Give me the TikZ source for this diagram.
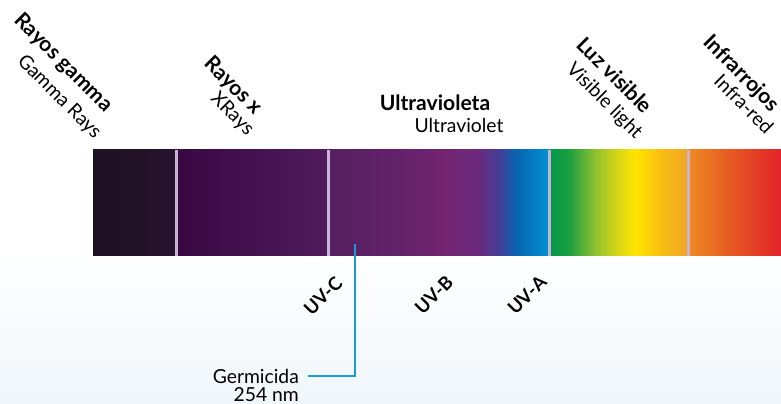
\documentclass[tikz,border=0pt]{standalone}
\usepackage{fontspec}
\setmainfont{Lato}
\definecolor{gamA}{HTML}{1C1222}
\definecolor{gamB}{HTML}{26122E}
\definecolor{xA}{HTML}{380842}
\definecolor{xB}{HTML}{501C5C}
\definecolor{uvA}{HTML}{55205F}
\definecolor{uvB}{HTML}{62226A}
\definecolor{uvC}{HTML}{742470}
\definecolor{uvD}{HTML}{6A2A80}
\definecolor{uvE}{HTML}{40409A}
\definecolor{uvF}{HTML}{0A62B0}
\definecolor{uvG}{HTML}{0094D2}
\definecolor{visA}{HTML}{00964A}
\definecolor{visB}{HTML}{20A040}
\definecolor{visC}{HTML}{90C030}
\definecolor{visD}{HTML}{D0D418}
\definecolor{visE}{HTML}{FFE400}
\definecolor{visF}{HTML}{F8C010}
\definecolor{visG}{HTML}{F0A428}
\definecolor{irA}{HTML}{EE8A22}
\definecolor{irB}{HTML}{E65A22}
\definecolor{irC}{HTML}{E2222A}
\definecolor{sepcol}{HTML}{C8B4D4}
\definecolor{germblue}{HTML}{1A9AD6}
\definecolor{floor}{HTML}{F0F6FB}
\begin{document}
\begin{tikzpicture}[x=0.02cm, y=0.02cm,
    lbl/.style={font=\fontsize{11}{13}\selectfont, inner sep=1pt},
    blbl/.style={lbl, font=\fontsize{12}{14}\selectfont\bfseries},
    downlbl/.style={rotate=-45},
    uplbl/.style={lbl, font=\fontsize{10.5}{12}\selectfont\bfseries, rotate=45},
    sepline/.style={sepcol, line width=0.06cm},
    germline/.style={germblue, line width=0.04cm}]
        % \draw[help lines, gray!50, very thin] (0,0) grid (781,-404);
        \useasboundingbox (0,0) rectangle (781,-404);
        \shade[top color=white, bottom color=floor] (0,-250) rectangle (781,-404);

        % spectrum bar
        \foreach \xa/\xb/\ca/\cb in {93/176/gamA/gamB, 176/328/xA/xB,
            328/400/uvA/uvB, 400/445/uvB/uvC, 445/480/uvC/uvD, 480/500/uvD/uvE,
            500/515/uvE/uvF, 515/549/uvF/uvG,
            549/570/visA/visB, 570/595/visB/visC, 595/615/visC/visD,
            615/635/visD/visE, 635/660/visE/visF, 660/688/visF/visG,
            688/730/irA/irB, 730/781/irB/irC}
          \shade[left color=\ca, right color=\cb] (\xa,-150) rectangle (\xb+0.5,-256);
        \foreach \xs in {176,328,549,688}
          \draw[sepline] (\xs,-150) -- (\xs,-256);

        % top labels
        \node[blbl, downlbl] (gammaes) at (63,-63) {Rayos gamma};
        \node[lbl, downlbl] (gammaen) at (59,-97) {Gamma Rays};
        \node[blbl, downlbl] (xes) at (233,-86) {Rayos x};
        \node[lbl, downlbl] (xen) at (232,-114) {XRays};
        \node[blbl] (uves) at (435,-103) {Ultravioleta};
        \node[lbl] (uven) at (459,-125) {Ultraviolet};
        \node[blbl, downlbl] (vises) at (615,-75) {Luz visible};
        \node[lbl, downlbl] (visen) at (604,-101) {Visible light};
        \node[blbl, downlbl] (ires) at (741,-74) {Infrarrojos};
        \node[lbl, downlbl] (iren) at (744,-104) {Infra-red};

        % uv bands
        \node[uplbl] (uvc) at (323,-296) {UV-C};
        \node[uplbl] (uvb) at (434,-295) {UV-B};
        \node[uplbl] (uva) at (527,-295) {UV-A};

        % germicidal line
        \coordinate (germtop) at (355,-244);
        \node[lbl, anchor=east, inner xsep=5pt] (germ) at (308,-376) {Germicida};
        \node[lbl, anchor=north east, inner xsep=5pt] (germnm) at (germ.south east) {254 nm};
        \draw[germline] (germtop) |- (germ.east);
      \end{tikzpicture}
\end{document}
